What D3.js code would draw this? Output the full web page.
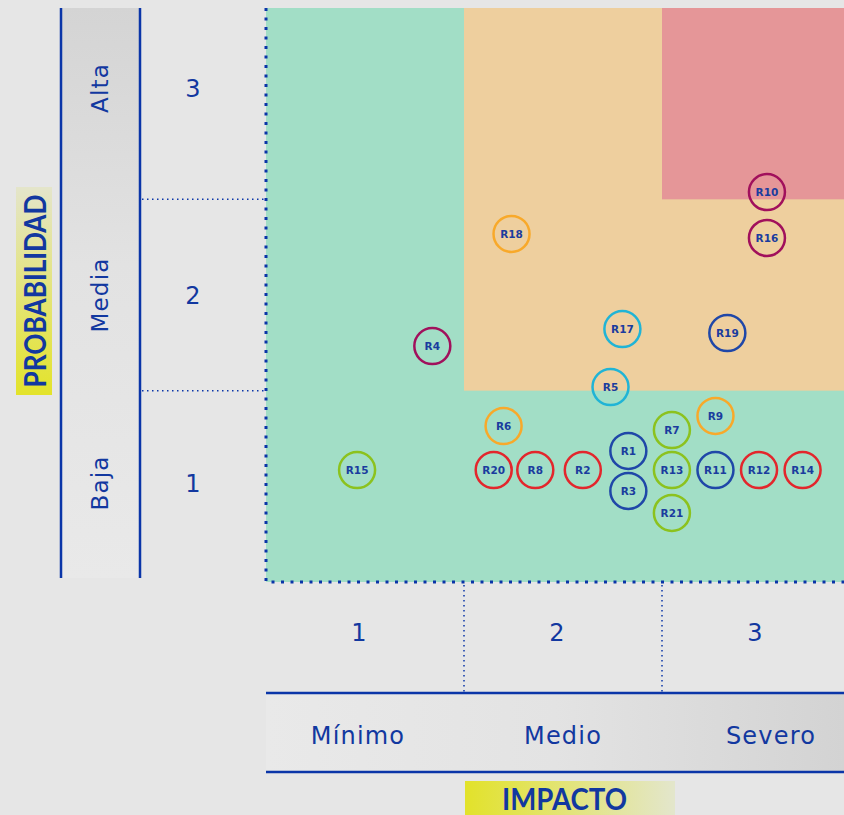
<!DOCTYPE html>
<html>
<head>
<meta charset="utf-8">
<style>
  body { margin: 0; background: #e6e6e6; }
  svg { display: block; font-family: "DejaVu Sans", Lato, sans-serif; }
  .lbl { fill: #1238a0; }
  .ax { letter-spacing: 1.2px; }
  .risk text { fill: #1a3c9e; font-weight: bold; font-size: 10.5px; }
</style>
</head>
<body>
<svg width="844" height="815"></svg>
<script src="https://d3js.org/d3.v7.min.js"></script>
<script>
// ---- data ----
var levels = [1, 2, 3];
var probLabels = ["Baja", "Media", "Alta"];
var impactLabels = ["Mínimo", "Medio", "Severo"];

// risk zones in (impact, probability) units
var zoneX0 = [0.5, 1.5, 2.5];
var zoneY0 = [0.5, 1.5, 2.5];
var zoneNames = ["bajo", "medio", "alto"];

var riskNames  = ["R1", "R2", "R3", "R4", "R5", "R6", "R7", "R8", "R9", "R10", "R11",
                  "R12", "R13", "R14", "R15", "R16", "R17", "R18", "R19", "R20", "R21"];
var riskImpact = [2.33, 2.10, 2.33, 1.34, 2.24, 1.70, 2.55, 1.86, 2.77, 3.03, 2.77,
                  2.99, 2.55, 3.21, 0.96, 3.03, 2.30, 1.74, 2.83, 1.65, 2.55];
var riskProb   = [1.185, 1.085, 0.976, 1.733, 1.519, 1.315, 1.294, 1.085, 1.368, 2.538, 1.085,
                  1.085, 1.085, 1.085, 1.085, 2.298, 1.822, 2.319, 1.801, 1.085, 0.861];
var riskGroup  = ["azul", "rojo", "azul", "morado", "cian", "naranja", "verde", "rojo", "naranja", "morado", "azul",
                  "rojo", "verde", "rojo", "verde", "morado", "cian", "naranja", "azul", "rojo", "verde"];

// ---- styles ----
var zoneColor = d3.scaleOrdinal().domain(zoneNames).range(["#a2dec6", "#eecf9e", "#e59698"]);
var groupColor = d3.scaleOrdinal()
  .domain(["azul", "rojo", "verde", "naranja", "cian", "morado"])
  .range(["#1f47a8", "#e3262c", "#8cc21e", "#f8a92a", "#20b4d6", "#a1105c"]);
var blue = "#0a35a8";

var svg = d3.select("svg");
var x = d3.scaleLinear().domain([0.5, 3.5]).range([266, 860]);
var y = d3.scaleLinear().domain([0.5, 3.5]).range([582, 8]);

var defs = svg.append("defs");
function grad(id, x1, y1, x2, y2, stops) {
  var g = defs.append("linearGradient").attr("id", id)
    .attr("x1", x1).attr("y1", y1).attr("x2", x2).attr("y2", y2);
  stops.forEach(function (s) { g.append("stop").attr("offset", s[0]).attr("stop-color", s[1]); });
}
grad("bandV", 0, 0, 0, 1, [[0, "#d4d4d4"], [0.45, "#e2e2e2"], [1, "#e9e9e9"]]);
grad("bandH", 0, 0, 1, 0, [[0, "#e9e9e9"], [0.5, "#e3e3e3"], [1, "#d3d3d3"]]);
grad("hlV", 0, 1, 0, 0, [[0, "#e3e32a"], [1, "#e4e5cb"]]);
grad("hlH", 0, 0, 1, 0, [[0, "#e2e22a"], [1, "#e3e6cc"]]);
defs.append("clipPath").attr("id", "plotclip").append("rect")
  .attr("x", x(0.5)).attr("y", y(3.5)).attr("width", 844 - x(0.5)).attr("height", y(0.5) - y(3.5));

// ---- zones ----
var zones = svg.append("g").attr("clip-path", "url(#plotclip)");
zoneNames.forEach(function (z, i) {
  zones.append("rect")
    .attr("x", x(zoneX0[i])).attr("y", y(3.5))
    .attr("width", x(3.5) - x(zoneX0[i]))
    .attr("height", y(zoneY0[i]) - y(3.5))
    .attr("fill", zoneColor(z));
});

// ---- plot border (dotted) ----
svg.append("path")
  .attr("d", "M" + x(0.5) + "," + y(3.5) + "V" + y(0.5) + "H844")
  .attr("fill", "none").attr("stroke", blue).attr("stroke-width", 3)
  .attr("stroke-dasharray", "3,6.5");

// ---- probability axis ----
var bandL = 61, bandR = 140, bandBottom = 578;
svg.append("rect").attr("x", bandL).attr("y", y(3.5)).attr("width", bandR - bandL)
  .attr("height", bandBottom - y(3.5)).attr("fill", "url(#bandV)");
[bandL, bandR].forEach(function (lx) {
  svg.append("line").attr("x1", lx).attr("x2", lx).attr("y1", y(3.5)).attr("y2", bandBottom)
    .attr("stroke", blue).attr("stroke-width", 2.5);
});
[1.5, 2.5].forEach(function (v) {
  svg.append("line").attr("x1", bandR + 2).attr("x2", x(0.5)).attr("y1", y(v)).attr("y2", y(v))
    .attr("stroke", blue).attr("stroke-width", 1.5).attr("stroke-dasharray", "1.5,3.5");
});
var probCenters = [483, 295, 88];
levels.forEach(function (v, i) {
  svg.append("text").attr("class", "lbl ax")
    .attr("transform", "translate(" + 108 + "," + probCenters[i] + ") rotate(-90)")
    .attr("text-anchor", "middle").attr("font-size", 23).text(probLabels[i]);
  svg.append("text").attr("class", "lbl")
    .attr("x", 193).attr("y", probCenters[i] + 9)
    .attr("text-anchor", "middle").attr("font-size", 24).text(v);
});
svg.append("rect").attr("x", 16).attr("y", 187).attr("width", 36).attr("height", 208).attr("fill", "url(#hlV)");
svg.append("text").attr("class", "lbl")
  .attr("transform", "translate(46,291) rotate(-90)")
  .attr("text-anchor", "middle").attr("font-size", 30).attr("font-weight", "bold")
  .attr("font-family", "Lato, sans-serif")
  .attr("textLength", 193).attr("lengthAdjust", "spacingAndGlyphs")
  .text("PROBABILIDAD");

// ---- impact axis ----
var line1 = 693, line2 = 772;
svg.append("rect").attr("x", x(0.5)).attr("y", line1).attr("width", 844 - x(0.5))
  .attr("height", line2 - line1).attr("fill", "url(#bandH)");
[line1, line2].forEach(function (ly) {
  svg.append("line").attr("x1", x(0.5)).attr("x2", 844).attr("y1", ly).attr("y2", ly)
    .attr("stroke", blue).attr("stroke-width", 2.5);
});
[1.5, 2.5].forEach(function (v) {
  svg.append("line").attr("x1", x(v)).attr("x2", x(v)).attr("y1", y(0.5) + 3).attr("y2", line1)
    .attr("stroke", blue).attr("stroke-width", 1.5).attr("stroke-dasharray", "1.5,3.5");
});
var impactLabelX = [358, 563, 771];
levels.forEach(function (v, i) {
  svg.append("text").attr("class", "lbl")
    .attr("x", x(v) - 6).attr("y", 641)
    .attr("text-anchor", "middle").attr("font-size", 24).text(v);
  svg.append("text").attr("class", "lbl ax")
    .attr("x", impactLabelX[i]).attr("y", 744)
    .attr("text-anchor", "middle").attr("font-size", 24).text(impactLabels[i]);
});
svg.append("rect").attr("x", 465).attr("y", 781).attr("width", 210).attr("height", 34).attr("fill", "url(#hlH)");
svg.append("text").attr("class", "lbl")
  .attr("x", 502).attr("y", 810)
  .attr("font-size", 30).attr("font-weight", "bold")
  .attr("font-family", "Lato, sans-serif")
  .attr("textLength", 125).attr("lengthAdjust", "spacingAndGlyphs")
  .text("IMPACTO");

// ---- risks ----
var risks = riskNames.map(function (n, i) {
  return { name: n, impact: riskImpact[i], prob: riskProb[i], group: riskGroup[i] };
});
var rg = svg.append("g").attr("class", "risk").attr("clip-path", "url(#plotclip)")
  .selectAll("g").data(risks).enter().append("g")
  .attr("transform", function (d) { return "translate(" + x(d.impact) + "," + y(d.prob) + ")"; });
rg.append("circle").attr("r", 18)
  .attr("fill", "none")
  .attr("stroke", function (d) { return groupColor(d.group); })
  .attr("stroke-width", 2.5);
rg.append("text").attr("text-anchor", "middle").attr("dy", "0.36em")
  .text(function (d) { return d.name; });
</script>
</body>
</html>
